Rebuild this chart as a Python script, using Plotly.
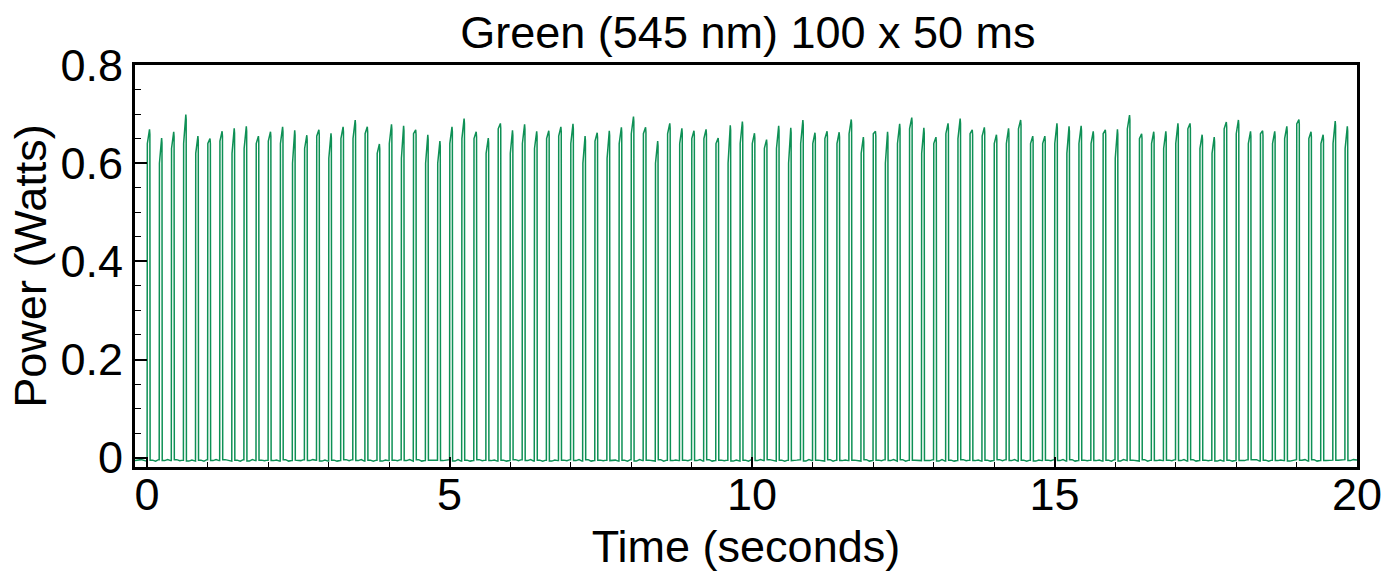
import plotly.graph_objects as go

# Pulse onset times (s) — 100 pulses of 50 ms
onset_times = [
    0.0, 0.2, 0.4, 0.6, 0.8, 1.0, 1.2, 1.4, 1.6, 1.8,
    2.0, 2.2, 2.4, 2.6, 2.8, 3.0, 3.2, 3.4, 3.6, 3.8,
    4.0, 4.2, 4.4, 4.6, 4.8, 5.0, 5.2, 5.4, 5.6, 5.8,
    6.0, 6.2, 6.4, 6.6, 6.8, 7.0, 7.2, 7.4, 7.6, 7.8,
    8.0, 8.2, 8.4, 8.6, 8.8, 9.0, 9.2, 9.4, 9.6, 9.8,
    10.0, 10.2, 10.4, 10.6, 10.8, 11.0, 11.2, 11.4, 11.6, 11.8,
    12.0, 12.2, 12.4, 12.6, 12.8, 13.0, 13.2, 13.4, 13.6, 13.8,
    14.0, 14.2, 14.4, 14.6, 14.8, 15.0, 15.2, 15.4, 15.6, 15.8,
    16.0, 16.2, 16.4, 16.6, 16.8, 17.0, 17.2, 17.4, 17.6, 17.8,
    18.0, 18.2, 18.4, 18.6, 18.8, 19.0, 19.2, 19.4, 19.6, 19.8,
]

# Peak power of each pulse (W)
peak_power = [
    0.669, 0.651, 0.664, 0.699, 0.655, 0.650, 0.665, 0.671, 0.675, 0.655,
    0.664, 0.674, 0.667, 0.657, 0.668, 0.661, 0.674, 0.688, 0.674, 0.639,
    0.679, 0.676, 0.668, 0.658, 0.645, 0.674, 0.691, 0.664, 0.651, 0.681,
    0.667, 0.679, 0.665, 0.666, 0.674, 0.680, 0.655, 0.662, 0.666, 0.673,
    0.695, 0.673, 0.645, 0.681, 0.671, 0.666, 0.669, 0.651, 0.677, 0.685,
    0.661, 0.648, 0.676, 0.672, 0.688, 0.662, 0.665, 0.663, 0.689, 0.653,
    0.665, 0.664, 0.680, 0.693, 0.672, 0.653, 0.681, 0.691, 0.668, 0.673,
    0.658, 0.671, 0.688, 0.655, 0.655, 0.681, 0.675, 0.676, 0.665, 0.668,
    0.669, 0.698, 0.660, 0.664, 0.665, 0.681, 0.681, 0.658, 0.653, 0.684,
    0.688, 0.665, 0.666, 0.665, 0.675, 0.689, 0.664, 0.658, 0.686, 0.675,
]

# Power level right after the rising edge (W)
rise_power = [
    0.640, 0.600, 0.630, 0.640, 0.620, 0.640, 0.645, 0.620, 0.630, 0.640,
    0.645, 0.640, 0.600, 0.630, 0.655, 0.610, 0.650, 0.650, 0.660, 0.620,
    0.640, 0.610, 0.660, 0.600, 0.600, 0.640, 0.650, 0.650, 0.620, 0.670,
    0.620, 0.640, 0.630, 0.650, 0.655, 0.640, 0.600, 0.645, 0.610, 0.640,
    0.660, 0.660, 0.600, 0.660, 0.640, 0.650, 0.650, 0.640, 0.600, 0.640,
    0.640, 0.630, 0.630, 0.600, 0.640, 0.640, 0.650, 0.640, 0.660, 0.620,
    0.660, 0.600, 0.640, 0.670, 0.620, 0.640, 0.660, 0.650, 0.660, 0.655,
    0.640, 0.640, 0.670, 0.640, 0.640, 0.640, 0.620, 0.640, 0.640, 0.660,
    0.610, 0.670, 0.650, 0.640, 0.630, 0.640, 0.670, 0.630, 0.620, 0.670,
    0.660, 0.640, 0.660, 0.640, 0.650, 0.680, 0.650, 0.640, 0.640, 0.630,
]

# Baseline (off-state) readings between pulses (W)
baseline_a = [
    -0.005, -0.006, -0.004, -0.007, -0.005, -0.006, -0.004, -0.005, -0.007, -0.005,
    -0.006, -0.004, -0.005, -0.006, -0.007, -0.005, -0.004, -0.006, -0.005, -0.007,
    -0.005, -0.006, -0.004, -0.005, -0.006, -0.007, -0.005, -0.004, -0.006, -0.005,
    -0.004, -0.006, -0.005, -0.007, -0.005, -0.006, -0.004, -0.005, -0.006, -0.005,
    -0.007, -0.005, -0.004, -0.006, -0.005, -0.006, -0.004, -0.005, -0.007, -0.005,
    -0.006, -0.004, -0.005, -0.006, -0.007, -0.005, -0.004, -0.006, -0.005, -0.004,
    -0.005, -0.006, -0.004, -0.005, -0.006, -0.007, -0.005, -0.004, -0.006, -0.005,
    -0.004, -0.006, -0.005, -0.007, -0.005, -0.006, -0.004, -0.005, -0.006, -0.005,
    -0.007, -0.005, -0.004, -0.006, -0.005, -0.006, -0.004, -0.005, -0.007, -0.005,
    -0.006, -0.004, -0.005, -0.006, -0.007, -0.005, -0.004, -0.006, -0.005, -0.006,
]
baseline_b = [
    -0.007, -0.004, -0.006, -0.005, -0.007, -0.004, -0.006, -0.007, -0.004, -0.006,
    -0.005, -0.007, -0.006, -0.004, -0.005, -0.007, -0.006, -0.004, -0.007, -0.005,
    -0.006, -0.004, -0.007, -0.006, -0.005, -0.004, -0.007, -0.006, -0.005, -0.007,
    -0.006, -0.004, -0.007, -0.005, -0.006, -0.004, -0.007, -0.006, -0.005, -0.007,
    -0.004, -0.006, -0.007, -0.005, -0.006, -0.004, -0.007, -0.006, -0.005, -0.007,
    -0.004, -0.006, -0.007, -0.005, -0.004, -0.006, -0.007, -0.005, -0.006, -0.007,
    -0.006, -0.004, -0.007, -0.005, -0.006, -0.004, -0.007, -0.006, -0.005, -0.007,
    -0.006, -0.004, -0.007, -0.005, -0.006, -0.004, -0.007, -0.006, -0.005, -0.007,
    -0.004, -0.006, -0.007, -0.005, -0.006, -0.004, -0.007, -0.006, -0.005, -0.007,
    -0.006, -0.004, -0.007, -0.005, -0.006, -0.004, -0.007, -0.006, -0.005, -0.004,
]

PULSE_WIDTH = 0.05  # s

t, p = [-0.2, -0.1], [-0.006, -0.004]
for i, t0 in enumerate(onset_times):
    t += [t0 - 0.01, t0, t0 + 0.004, t0 + 0.040, t0 + 0.046, t0 + PULSE_WIDTH,
          t0 + 0.09, t0 + 0.14]
    p += [baseline_b[i], baseline_b[i], rise_power[i], peak_power[i],
          peak_power[i] - 0.01, baseline_a[i], baseline_a[i], baseline_b[i]]
t += [20.0]
p += [-0.005]

fig = go.Figure(go.Scatter(x=t, y=p, mode="lines",
                           line=dict(color="#0e9055", width=1.5),
                           showlegend=False))

FONT = "Liberation Sans, Arial, Helvetica, sans-serif"
FS = 45
axis_common = dict(showline=True, linecolor="black", linewidth=3, mirror=True,
                   ticks="inside", tickcolor="black", tickwidth=1.5,
                   showgrid=False, zeroline=False,
                   tickfont=dict(family=FONT, size=FS, color="black"))

fig.update_layout(
    width=1398, height=584,
    margin=dict(l=135, r=41, t=65, b=117),
    paper_bgcolor="white", plot_bgcolor="white",
    title=dict(text="Green (545 nm) 100 x 50 ms", x=0.535, xanchor="center",
               y=0.945, yanchor="middle",
               font=dict(family=FONT, size=FS, color="black")),
    xaxis=dict(range=[-0.2, 20.0], tickvals=[0, 5, 10, 15, 20], ticklen=10,
               ticklabelstandoff=-14,
               minor=dict(dtick=1, ticks="inside", ticklen=5, tickcolor="black", tickwidth=1),
               title=dict(text="Time (seconds)", standoff=12,
                          font=dict(family=FONT, size=FS, color="black")),
               **axis_common),
    yaxis=dict(range=[-0.019, 0.8], tickvals=[0, 0.2, 0.4, 0.6, 0.8],
               ticktext=["0", "0.2", "0.4", "0.6", "0.8"], ticklen=12,
               minor=dict(dtick=0.05, ticks="inside", ticklen=6, tickcolor="black", tickwidth=1),
               title=dict(text="Power (Watts)", standoff=0,
                          font=dict(family=FONT, size=FS, color="black")),
               **axis_common),
)

fig.write_html("out.html")
